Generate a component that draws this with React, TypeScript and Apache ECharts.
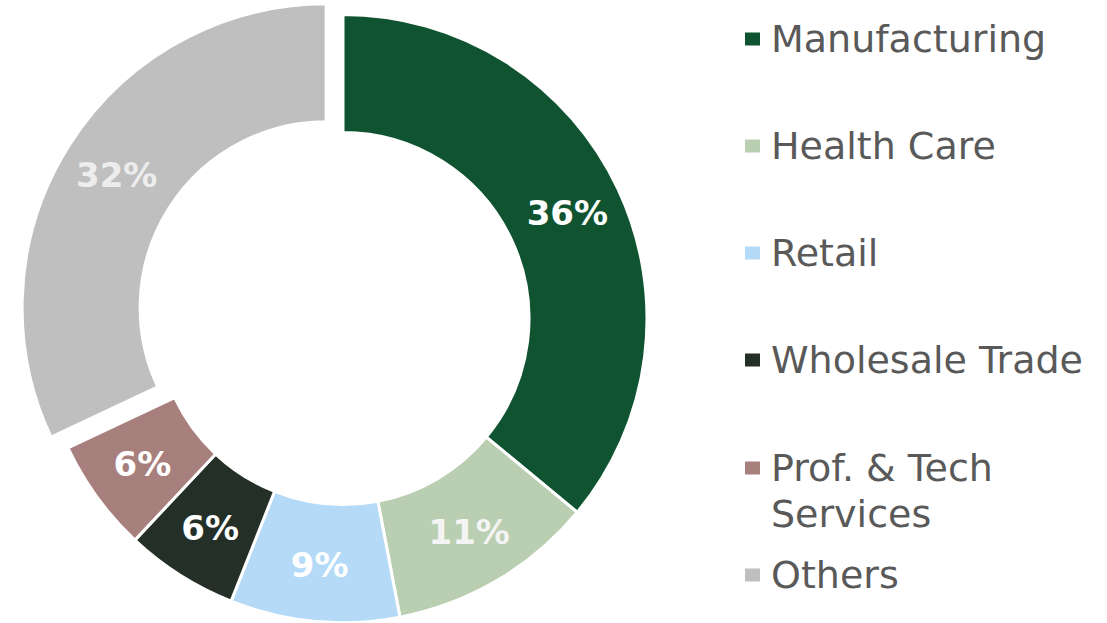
import React, { useEffect, useRef } from "react";
import * as echarts from "echarts";

const categories = ["Manufacturing", "Health Care", "Retail", "Wholesale Trade", "Prof. & Tech Services", "Others"];
const shares = [36, 11, 9, 6, 6, 32];
const colors = ["#0F5330", "#BACEB2", "#B4DAF8", "#232F27", "#A77F7C", "#BFBFBF"];
const labelColors = ["#FFFFFF", "#F4F4F4", "#FFFFFF", "#FFFFFF", "#FFFFFF", "#EDEDED"];
const legendTexts = ["Manufacturing", "Health Care", "Retail", "Wholesale Trade", "\nProf. & Tech\nServices", "Others"];
const legendCenters = [39, 146, 253, 360, 468, 575];
const explodedIndex = 5;

export default function App() {
  const ref = useRef<HTMLDivElement>(null);
  useEffect(() => {
    document.body.style.margin = "0";
    const chart = echarts.init(ref.current!, null, { renderer: "svg" });
    const lineH = 46;
    const legends = categories.map((name, i) => {
      const lines = legendTexts[i].split("\n").length;
      return {
        orient: "vertical",
        left: 743,
        top: legendCenters[i] - (lines * lineH) / 2,
        padding: 0,
        data: [{ name, icon: "rect" }],
        itemWidth: 17,
        itemHeight: 15,
        selectedMode: false,
        formatter: () => legendTexts[i],
        textStyle: {
          fontFamily: "DejaVu Sans",
          fontSize: 38,
          color: "#595959",
          lineHeight: lineH,
          padding: [0, 0, 0, 5],
        },
      };
    });
    chart.setOption({
      animation: false,
      legend: legends,
      series: [
        {
          type: "pie",
          center: [343, 318.5],
          radius: [186, 304],
          startAngle: 90,
          clockwise: true,
          selectedMode: "single",
          selectedOffset: 20,
          avoidLabelOverlap: false,
          itemStyle: { borderColor: "#FFFFFF", borderWidth: 3 },
          emphasis: { disabled: true },
          label: {
            show: true,
            position: "inside",
            fontFamily: "DejaVu Sans",
            fontWeight: "bold",
            fontSize: 34,
            formatter: (p: any) => `${p.value}%`,
          },
          labelLine: { show: false },
          data: categories.map((name, i) => ({
            name,
            value: shares[i],
            selected: i === explodedIndex,
            itemStyle: { color: colors[i] },
            label: { color: labelColors[i] },
          })),
        },
      ],
    });
    return () => chart.dispose();
  }, []);
  return <div ref={ref} style={{ position: "absolute", left: 0, top: 0, width: 1107, height: 623 }} />;
}
